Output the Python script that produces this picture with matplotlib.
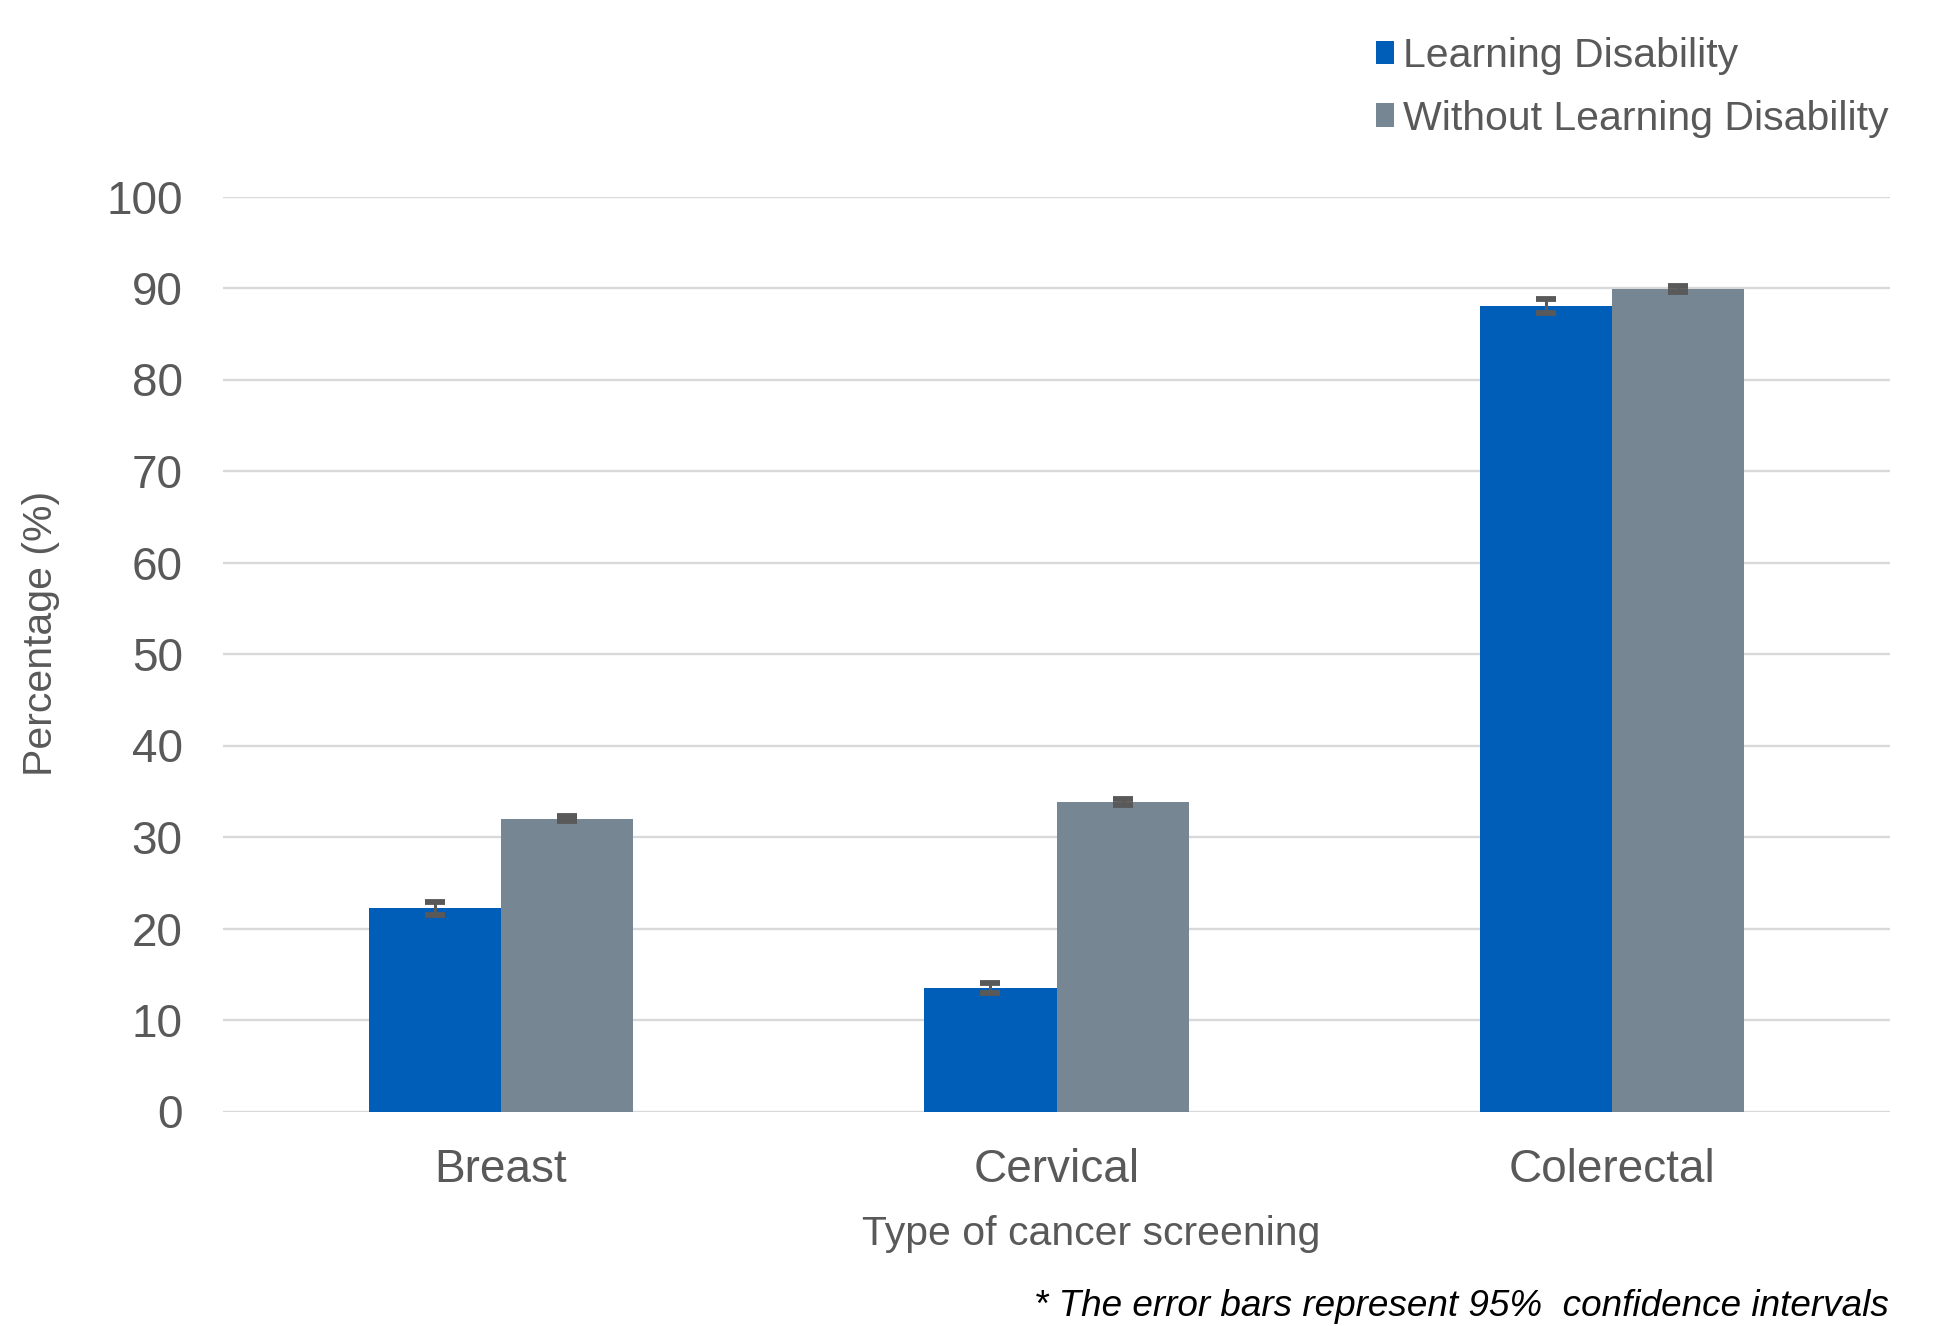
import numpy as np
import matplotlib
matplotlib.use('Agg')
import matplotlib.pyplot as plt

plt.rcParams['font.family'] = ['Liberation Sans', 'DejaVu Sans']

# data
categories = ['Breast', 'Cervical', 'Colerectal']
series_names = ['Learning Disability', 'Without Learning Disability']
ld_vals = [22.2, 13.5, 88.0]
ld_err = [0.7, 0.5, 0.75]
wo_vals = [32.0, 33.8, 89.9]
wo_err = [0.3, 0.35, 0.35]
yticks = [0, 10, 20, 30, 40, 50, 60, 70, 80, 90, 100]

# style
c_blue = '#005EB8'
c_grey = '#768692'
c_text = '#595959'
c_grid = '#D9D9D9'
bar_w = 0.238

fig = plt.figure(figsize=(19.5, 13.26), dpi=100)
ax = fig.add_axes([223/1950, 1 - 1111.5/1326, 1667/1950, 915/1326])

x = np.arange(len(categories))
ax.bar(x - bar_w/2, ld_vals, bar_w, color=c_blue, label=series_names[0], zorder=3)
ax.bar(x + bar_w/2, wo_vals, bar_w, color=c_grey, label=series_names[1], zorder=3)
err_kw = dict(fmt='none', ecolor='#595959', elinewidth=2.2, capsize=7.2, capthick=4.2, zorder=4)
ax.errorbar(x - bar_w/2, ld_vals, yerr=ld_err, **err_kw)
ax.errorbar(x + bar_w/2, wo_vals, yerr=wo_err, **err_kw)

ax.set_xlim(-0.5, 2.5)
ax.set_ylim(0, 100)
ax.set_yticks(yticks)
ax.set_xticks(x)
ax.set_xticklabels(categories)
ax.yaxis.grid(True, color=c_grid, linewidth=1.7, zorder=0)
ax.set_axisbelow(True)
for s in ax.spines.values():
    s.set_visible(False)
ax.tick_params(axis='both', length=0, labelsize=33, colors=c_text)
ax.tick_params(axis='y', pad=29)
ax.tick_params(axis='x', pad=26)

fig.text(1091/1950, 1 - 1234/1326, 'Type of cancer screening', fontsize=29.5,
         color=c_text, ha='center', va='center')
fig.text(41/1950, 1 - 633/1326, 'Percentage (%)', fontsize=29.5, color=c_text,
         ha='center', va='center', rotation=90)
fig.text(1889/1950, 1 - 1307/1326, '* The error bars represent 95%  confidence intervals',
         fontsize=26.6, style='italic', color='black', ha='right', va='center')

leg = fig.legend(loc='upper left', bbox_to_anchor=(1376/1950, 1 - 37/1326),
                 frameon=False, fontsize=29.5, handlelength=0.45, handleheight=0.5,
                 handletextpad=0.2, labelspacing=0.6, borderaxespad=0, borderpad=0)
for t in leg.get_texts():
    t.set_color(c_text)

fig.savefig('out.png', dpi=100)
